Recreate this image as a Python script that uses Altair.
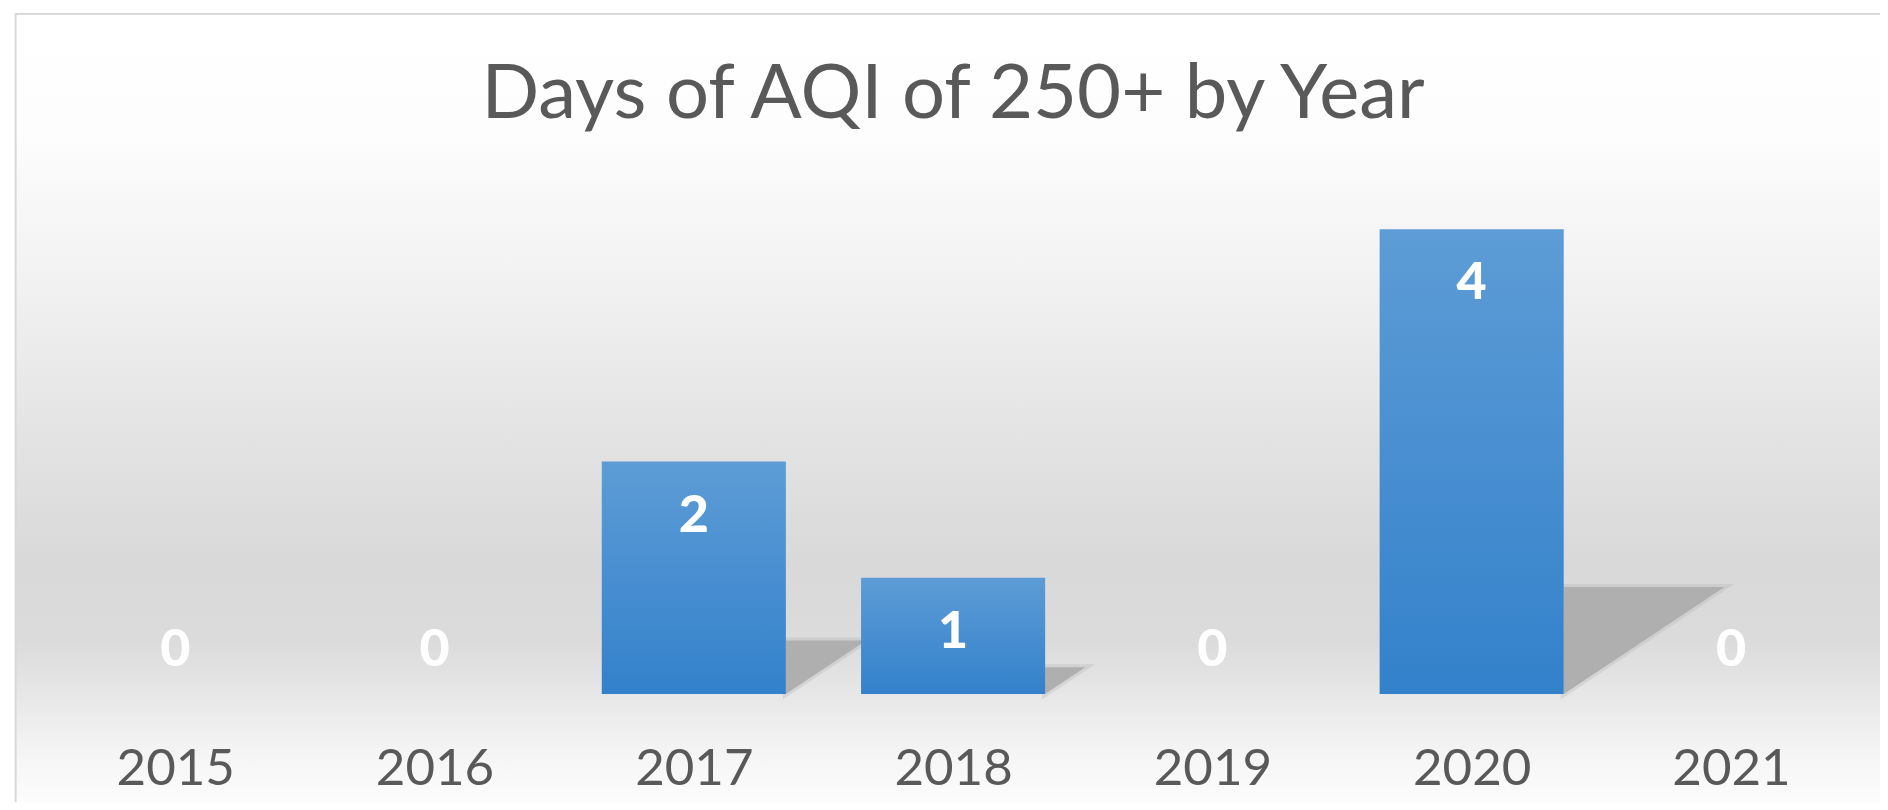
import altair as alt
import pandas as pd

# ---- data ----
years = [2015, 2016, 2017, 2018, 2019, 2020, 2021]
days = [0, 0, 2, 1, 0, 4, 0]
title_text = "Days of AQI of 250+ by Year"

df = pd.DataFrame({"year": years, "days": days})

HALF = 0.355      # half bar width in year units
SH_H = 0.23       # shadow height relative to bar value
SH_W = 0.155      # shadow length (years) per unit of value

rows = []
for yr, v in zip(years, days):
    if v > 0:
        r = yr + HALF
        rows.append({"year": yr, "sx": r, "top": SH_H * v, "bot": 0.0})
        rows.append({"year": yr, "sx": r + SH_W * v, "top": SH_H * v, "bot": SH_H * v})
shadow_df = pd.DataFrame(rows)

FONT = "Lato"
W, H = 1815, 581

xscale = alt.Scale(domain=[2014.5, 2021.5], nice=False, zero=False)
yscale = alt.Scale(domain=[0, 5], nice=False)

x_axis = alt.Axis(
    values=years, format="d", labelFont=FONT, labelFontSize=51,
    labelColor="#595959", ticks=False, domain=False, grid=False,
    labelPadding=50, labelFlush=False, labelOverlap=False, zindex=2,
)

bg_stops = [
    (0.0, "#ffffff"), (0.145, "#fdfdfd"), (0.3575, "#f0f0f0"),
    (0.545, "#e2e2e2"), (0.6825, "#d9d9d9"), (0.7825, "#dbdbdb"),
    (0.8575, "#e8e8e8"), (0.9325, "#f6f6f6"), (1.0, "#fefefe"),
]
bg = alt.Chart(pd.DataFrame({"k": [0]})).mark_rect(
    fill=alt.Gradient(gradient="linear", x1=0, y1=0, x2=0, y2=1,
                      stops=[alt.GradientStop(offset=o, color=c) for o, c in bg_stops]),
    stroke="#d9d9d9", strokeWidth=2,
).encode(x=alt.value(-30), x2=alt.value(W + 40), y=alt.value(-99), y2=alt.value(H + 120))

shadow = alt.Chart(shadow_df).mark_area(
    color="#adadad", opacity=0.95, stroke="#b0b0b0", strokeWidth=6, strokeOpacity=0.3,
    interpolate="linear",
).encode(
    x=alt.X("sx:Q", scale=xscale, axis=x_axis, title=None),
    y=alt.Y("top:Q", scale=yscale, axis=None),
    y2="bot:Q",
    detail="year:N",
)

bars = alt.Chart(df).transform_calculate(
    x0=f"datum.year - {HALF}", x1=f"datum.year + {HALF}"
).mark_rect(
    fill=alt.Gradient(gradient="linear", x1=0, y1=0, x2=0, y2=1,
                      stops=[alt.GradientStop(offset=0, color="#5d9cd6"),
                             alt.GradientStop(offset=1, color="#3381cb")]),
).encode(
    x=alt.X("x0:Q", scale=xscale, axis=x_axis, title=None),
    x2="x1:Q",
    y=alt.Y("days:Q", scale=yscale, axis=None),
    y2=alt.datum(0),
)

lab_in = alt.Chart(df).transform_filter("datum.days > 0").mark_text(
    font=FONT, fontSize=52, fontWeight=900, color="white", baseline="middle", dy=54,
).encode(
    x=alt.X("year:Q", scale=xscale, axis=x_axis, title=None),
    y=alt.Y("days:Q", scale=yscale, axis=None),
    text="days:Q",
)

lab_zero = alt.Chart(df).transform_filter("datum.days == 0").mark_text(
    font=FONT, fontSize=52, fontWeight=900, color="white", baseline="middle", dy=-44,
).encode(
    x=alt.X("year:Q", scale=xscale, axis=x_axis, title=None),
    y=alt.Y("days:Q", scale=yscale, axis=None),
    text="days:Q",
)

chart = alt.layer(bg, shadow, bars, lab_in, lab_zero).properties(
    width=W, height=H,
    padding={"left": 37.6, "top": 105, "right": 19.4, "bottom": 108},
    autosize=alt.AutoSizeParams(type="none"),
    title=alt.Title(
        title_text, font=FONT, fontSize=76, fontWeight="normal", color="#595959",
        anchor="middle", baseline="alphabetic", offset=-181,
    ),
).configure_view(stroke=None).configure(background="white")

chart.save("out.html", embed_options={"renderer": "svg", "actions": False})
